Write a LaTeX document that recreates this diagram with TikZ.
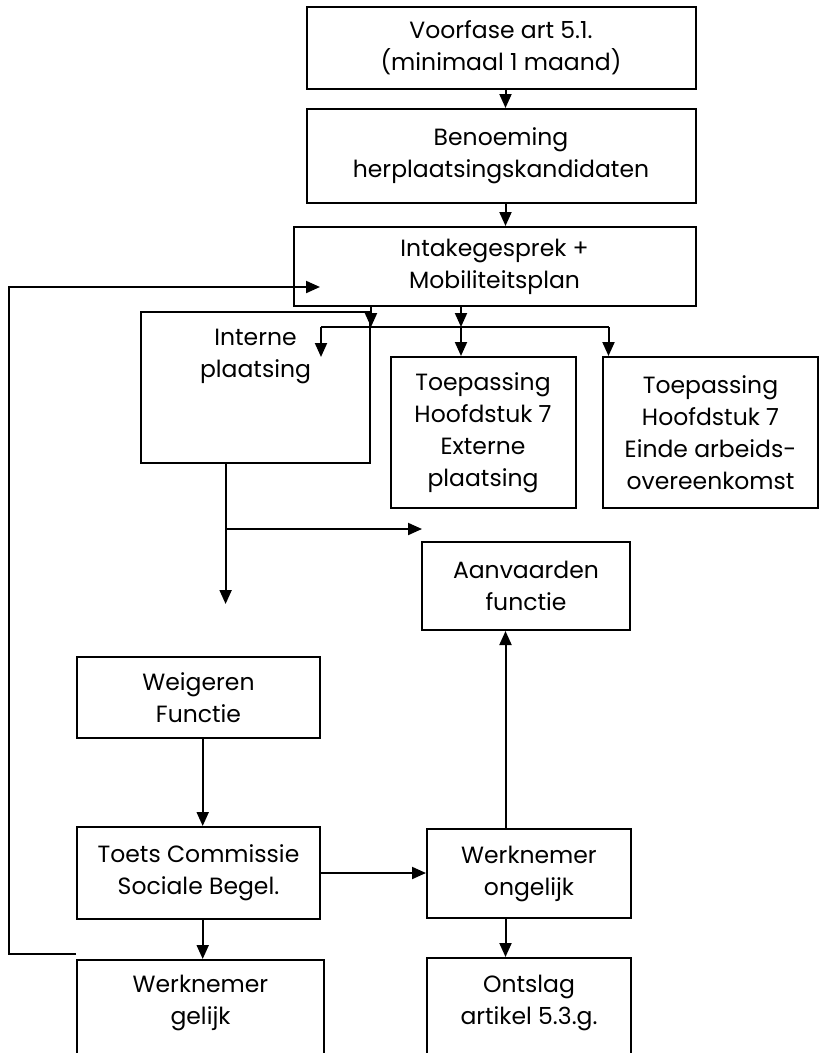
\documentclass[tikz,border=0pt]{standalone}
\usepackage{fontspec}
\setmainfont{Poppins}
\usetikzlibrary{arrows.meta}
\tikzset{
  box/.style={draw, line width=2pt, align=center, inner sep=0pt},
  txt/.style={align=center, inner sep=0pt},
  arr/.style={-{Triangle[length=14pt,width=12pt]}, line width=2pt}
}
\begin{document}
\begin{tikzpicture}[x=1pt, y=-1pt, font=\fontsize{23.5}{32}\selectfont]
\useasboundingbox (0,0) rectangle (819,1053);
\clip (0,0) rectangle (819,1053);
\node[box, minimum width=389pt, minimum height=82pt] (vf) at (501,48) {Voorfase art 5.1.\\(minimaal 1 maand)};
\node[box, minimum width=389pt, minimum height=94pt] (bn) at (501,156) {Benoeming\\herplaatsingskandidaten};
\node[box, minimum width=402pt, minimum height=79pt] (ik) at (494.6,266.5) {Intakegesprek +\\Mobiliteitsplan};
\node[box, minimum width=229pt, minimum height=151pt] (ip) at (255.5,387.5) {};
\node[txt] (ipt) at (255.5,356) {Interne\\plaatsing};
\node[box, minimum width=185pt, minimum height=151pt] (ep) at (483,432.5) {Toepassing\\Hoofdstuk 7\\Externe\\plaatsing};
\node[box, minimum width=215pt, minimum height=151pt] (ea) at (710.5,432.5) {Toepassing\\Hoofdstuk 7\\Einde arbeids-\\overeenkomst};
\node[box, minimum width=208pt, minimum height=88pt] (af) at (526,586) {Aanvaarden\\functie};
\node[box, minimum width=243pt, minimum height=81pt] (wf) at (198.5,697.5) {Weigeren\\Functie};
\node[box, minimum width=243pt, minimum height=92pt] (tc) at (198.5,873) {Toets Commissie\\Sociale Begel.};
\node[box, minimum width=204pt, minimum height=89pt] (wo) at (529,873.5) {Werknemer\\ongelijk};
\node[box, minimum width=247pt, minimum height=120pt] (wg) at (200.5,1020) {};
\node[txt] (wgt) at (200.5,1003) {Werknemer\\gelijk};
\node[box, minimum width=204pt, minimum height=120pt] (os) at (529,1018) {};
\node[txt] (ost) at (529,1002.5) {Ontslag\\artikel 5.3.g.};
\coordinate (c1) at (505.5,0);
\coordinate (c2) at (202.7,0);
\coordinate (bl) at (321,327);
\coordinate (bm) at (461,327);
\coordinate (br) at (608.5,327);
\coordinate (il) at (321,357);
\coordinate (fork) at (225.6,529);
\coordinate (down) at (225.6,604);
\coordinate (right) at (422,529);
\coordinate (loop) at (9.4,287);
\coordinate (loopend) at (320,287);
\draw[arr] (vf.south -| c1) -- (bn.north -| c1);
\draw[arr] (bn.south -| c1) -- (ik.north -| c1);
\draw[arr] (ik.south -| ip.north east) -- (bl -| ip.north east);
\draw[arr] (ik.south -| bm) -- (bm);
\draw[line width=2pt] (bl) -- (br);
\draw[arr] (bl) -- (il);
\draw[arr] (bm) -- (ep.north -| bm);
\draw[arr] (br) -- (ea.north -| br);
\draw[arr] (ip.south -| fork) -- (down);
\draw[arr] (fork) -- (right);
\draw[arr] (wf.south -| c2) -- (tc.north -| c2);
\draw[arr] (tc.east) -- (tc.east -| wo.west);
\draw[arr] (wo.north -| c1) -- (af.south -| c1);
\draw[arr] (tc.south -| c2) -- (wg.north -| c2);
\draw[arr] (wo.south -| c1) -- (os.north -| c1);
\draw[arr] ([yshift=5pt]wg.north west) -| (loop) -- (loopend);
\end{tikzpicture}
\end{document}
